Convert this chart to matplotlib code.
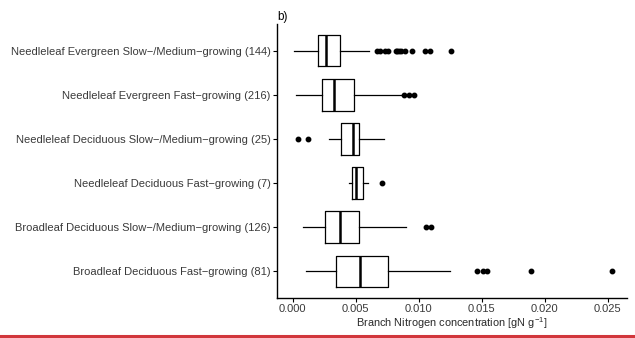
import matplotlib
matplotlib.use("Agg")
import matplotlib.pyplot as plt
from matplotlib.lines import Line2D

plt.rcParams['font.family'] = ['Liberation Sans', 'DejaVu Sans']
plt.rcParams['mathtext.fontset'] = 'custom'
plt.rcParams['mathtext.rm'] = 'Liberation Sans'
plt.rcParams['mathtext.it'] = 'Liberation Sans:italic'

categories = [
    "Needleleaf Evergreen Slow\u2212/Medium\u2212growing (144)",
    "Needleleaf Evergreen Fast\u2212growing (216)",
    "Needleleaf Deciduous Slow\u2212/Medium\u2212growing (25)",
    "Needleleaf Deciduous Fast\u2212growing (7)",
    "Broadleaf Deciduous Slow\u2212/Medium\u2212growing (126)",
    "Broadleaf Deciduous Fast\u2212growing (81)",
]
whisker_low = [0.00008, 0.00029, 0.00289, 0.00450, 0.00079, 0.00106]
q1 = [0.00201, 0.00236, 0.00381, 0.00468, 0.00254, 0.00347]
median = [0.00265, 0.00328, 0.00476, 0.00503, 0.00378, 0.00531]
q3 = [0.00378, 0.00489, 0.00529, 0.00555, 0.00527, 0.00753]
whisker_high = [0.00608, 0.00862, 0.00727, 0.00598, 0.00899, 0.01251]
outliers = [
    [0.00669, 0.0069, 0.00735, 0.00753, 0.00816, 0.00828, 0.00841, 0.0086,
     0.00888, 0.00947, 0.01047, 0.01092, 0.01259],
    [0.0088, 0.0092, 0.00965],
    [0.0004, 0.00122],
    [0.00709],
    [0.01058, 0.01098],
    [0.01463, 0.01507, 0.01542, 0.01888, 0.0253],
]
xticks = [0.000, 0.005, 0.010, 0.015, 0.020, 0.025]
xticklabels = ["0.000", "0.005", "0.010", "0.015", "0.020", "0.025"]

fig = plt.figure(figsize=(6.35, 3.38), dpi=100)
ax = fig.add_axes([277/635, 40/338, 350/635, 274/338])

n = len(categories)
positions = [n - i for i in range(n)]
stats = []
for i in range(n):
    stats.append(dict(whislo=whisker_low[i], q1=q1[i], med=median[i],
                      q3=q3[i], whishi=whisker_high[i], fliers=outliers[i],
                      label=categories[i]))

ax.bxp(stats, positions=positions, vert=False, widths=0.72, showcaps=False,
       boxprops=dict(color='black', linewidth=0.9),
       whiskerprops=dict(color='black', linewidth=0.9),
       medianprops=dict(color='black', linewidth=1.8, solid_capstyle='butt'),
       flierprops=dict(marker='o', markerfacecolor='black',
                       markeredgecolor='black', markersize=3.2))

ax.set_ylim(0.4, n + 0.6)
ax.set_xlim(-0.00124, 0.02652)
ax.set_xticks(xticks)
ax.set_xticklabels(xticklabels)
ax.set_yticks(positions)
ax.set_yticklabels(categories)
ax.tick_params(axis='both', labelsize=8.0, length=3, width=0.8, pad=1.5,
               colors='black', labelcolor='#3a3a3a')
for s in ['top', 'right']:
    ax.spines[s].set_visible(False)
for s in ['left', 'bottom']:
    ax.spines[s].set_linewidth(1.0)
ax.set_xlabel("Branch Nitrogen concentration [gN g$^{\u22121}$]",
              fontsize=7.9, color='#2a2a2a', labelpad=1)
ax.set_title("b)", loc='left', fontsize=8.5, pad=3, x=0.0)

fig.add_artist(Line2D([0, 1], [1.6/338, 1.6/338], color='#d1363b',
                      linewidth=2.2, transform=fig.transFigure))

fig.savefig("out.png", dpi=100)
